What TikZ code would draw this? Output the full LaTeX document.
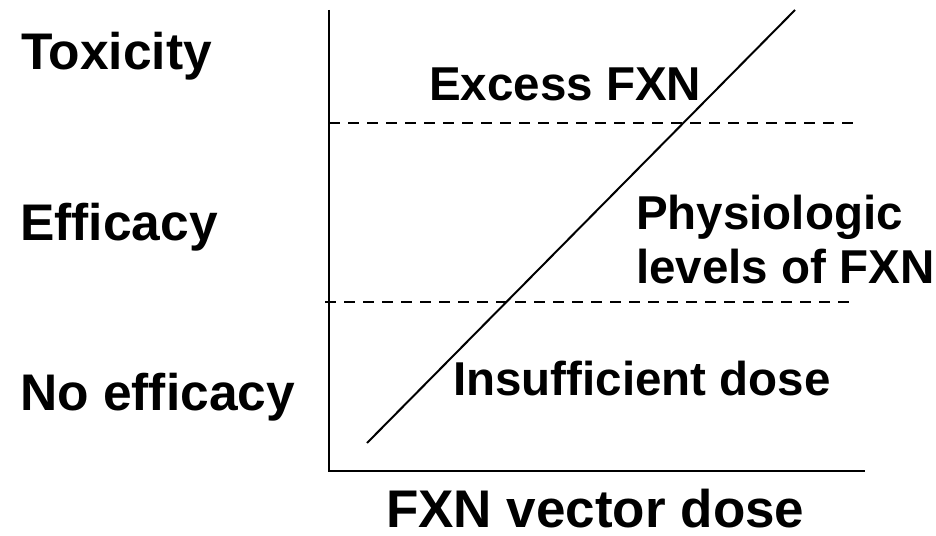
\documentclass[tikz,border=0pt]{standalone}
\usepackage{fontspec}
\setmainfont{Liberation Sans}
\begin{document}
\begin{tikzpicture}[x=1pt,y=-1pt,
  lbl/.style={anchor=base west,inner sep=0pt,font=\bfseries\fontsize{51.5}{56}\selectfont},
  inlbl/.style={anchor=base west,inner sep=0pt,font=\bfseries\fontsize{47.5}{54}\selectfont},
  axisline/.style={line width=2pt},
  dline/.style={line width=1.8pt,dash pattern=on 11pt off 8pt},
  diag/.style={line width=2pt}]
\useasboundingbox (0,0) rectangle (936,535);
\coordinate (otop) at (329,10);
\coordinate (orig) at (329,471);
\coordinate (xend) at (865,471);
\draw[axisline] (otop) -- (orig) -- (xend);
\coordinate (d1a) at (329,123);
\coordinate (d1b) at (858,123);
\coordinate (d2a) at (325,302);
\coordinate (d2b) at (852,302);
\draw[dline] (d1a) -- (d1b);
\draw[dline] (d2a) -- (d2b);
\coordinate (ls) at (367,443);
\coordinate (le) at (795,10);
\draw[diag] (ls) -- (le);
\node[lbl] (tox) at (21,70) {Toxicity};
\node[lbl] (eff) at (20,240) {Efficacy};
\node[lbl] (noeff) at (20,410) {No efficacy};
\node[inlbl] (exc) at (429,100) {Excess FXN};
\node[inlbl] (phys1) at (636,229) {Physiologic};
\node[inlbl] (phys2) at (636,283) {levels of FXN};
\node[inlbl] (ins) at (453,395) {Insufficient dose};
\node[lbl,font=\bfseries\fontsize{53}{58}\selectfont] (xlab) at (386,527) {FXN vector dose};
\end{tikzpicture}
\end{document}
